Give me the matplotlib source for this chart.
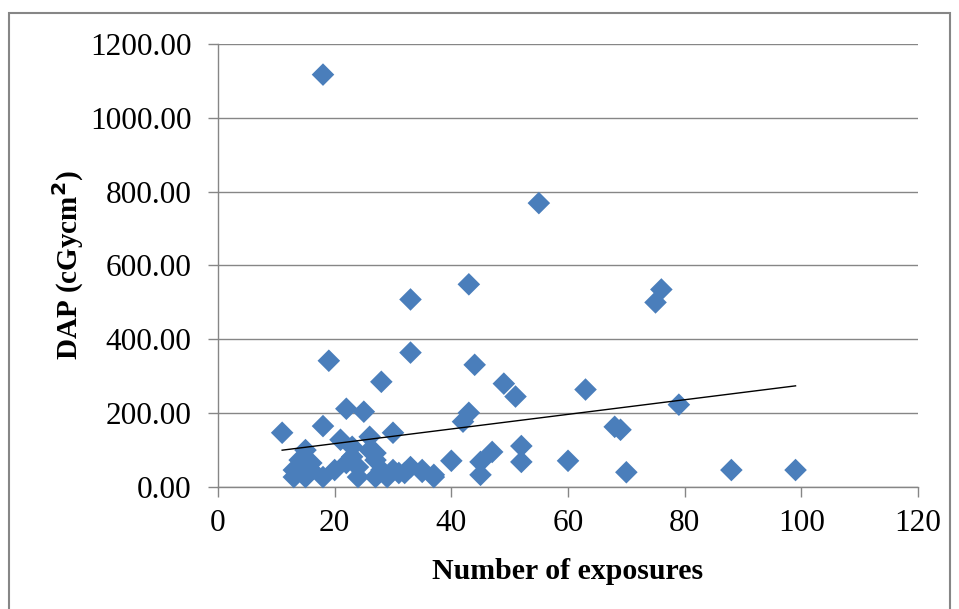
import numpy as np
import matplotlib
matplotlib.use("Agg")
import matplotlib.pyplot as plt
from matplotlib.patches import Rectangle

# number of exposures per procedure and the recorded dose-area product
exposures = [18, 55, 33, 43, 76, 75, 19, 33, 44, 28, 49, 51, 63, 79,
             11, 18, 22, 25, 43, 42, 30, 21, 26, 52, 68, 69, 47, 45,
             40, 52, 60, 45, 70, 88, 99,
             15, 15, 14, 13, 13, 15, 16, 18, 20, 22, 23, 23, 24, 24,
             26, 27, 27, 28, 29, 30, 31, 32, 33, 35, 35, 37, 37, 16, 27]
dap = [1117, 769, 508, 549, 535, 500, 342, 364, 331, 285, 280, 245, 264, 223,
       147, 165, 212, 204, 201, 177, 147, 128, 136, 111, 163, 155, 95, 68,
       71, 68, 71, 33, 40, 46, 46,
       100, 27, 73, 46, 27, 46, 46, 27, 46, 65, 82, 109, 27, 54,
       100, 73, 92, 46, 27, 46, 38, 38, 54, 46, 41, 27, 33, 65, 27]

# linear trendline as reported with the chart
trend_slope = 1.98
trend_intercept = 78.0

x_ticks = [0, 20, 40, 60, 80, 100, 120]
y_ticks = [0, 200, 400, 600, 800, 1000, 1200]

plt.rcParams['font.family'] = ['Liberation Serif', 'DejaVu Serif']

fig = plt.figure(figsize=(9.59, 6.09), dpi=100)
ax = fig.add_axes([0.2273, 0.2003, 0.7300, 0.7275])

ax.scatter(exposures, dap, marker='D', s=11.5 ** 2, color='#4A7EBB',
           edgecolors='none', zorder=3, clip_on=False)

xs = np.array([min(exposures), max(exposures)])
ax.plot(xs, trend_slope * xs + trend_intercept, color='black', lw=1.0, zorder=4)

ax.set_xlim(0, 120)
ax.set_ylim(0, 1200)
ax.set_xticks(x_ticks)
ax.set_yticks(y_ticks)
ax.set_yticklabels([f"{v:.2f}" for v in y_ticks])
ax.tick_params(axis='both', labelsize=22.5, colors='#868686', length=7,
               width=1, labelcolor='black', direction='out')
ax.tick_params(axis='x', pad=9)
ax.tick_params(axis='y', pad=12)

ax.yaxis.grid(True, color='#868686', lw=1)
ax.set_axisbelow(True)
for s in ['top', 'right']:
    ax.spines[s].set_visible(False)
for s in ['left', 'bottom']:
    ax.spines[s].set_color('#868686')
    ax.spines[s].set_linewidth(1)

ax.set_xlabel('Number of exposures', fontsize=21.5, fontweight='bold', labelpad=14)
ax.set_ylabel('DAP (cGycm$^\\mathbf{2}$)', fontsize=21, fontweight='bold', labelpad=3)

# chart frame
fig.patches.append(Rectangle((9 / 959, -0.05), 941 / 959, 1 - 13 / 609 + 0.05,
                             transform=fig.transFigure, fill=False,
                             edgecolor='#868686', lw=1.5))

fig.savefig('out.png', dpi=100)
